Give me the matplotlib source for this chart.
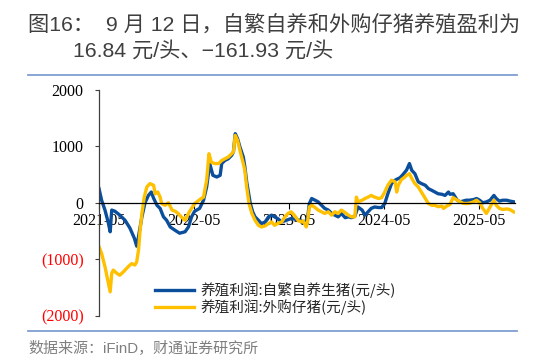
import pandas as pd
import matplotlib
matplotlib.use("Agg")
from matplotlib import pyplot as plt
from matplotlib.lines import Line2D

# 养殖利润:自繁自养生猪(元/头)
blue_dates = [
    '2021-05-01', '2021-05-11', '2021-05-24', '2021-06-06', '2021-06-13', '2021-06-19',
    '2021-07-01', '2021-07-20', '2021-08-09', '2021-08-28', '2021-09-14', '2021-09-23',
    '2021-09-30', '2021-10-13', '2021-10-25', '2021-11-07', '2021-11-18', '2021-11-27',
    '2021-12-10', '2021-12-22', '2022-01-04', '2022-01-16', '2022-01-30', '2022-02-18',
    '2022-03-07', '2022-03-28', '2022-04-10', '2022-04-22', '2022-05-04', '2022-05-23',
    '2022-06-07', '2022-06-19', '2022-07-01', '2022-07-13', '2022-07-28', '2022-08-10',
    '2022-08-16', '2022-08-28', '2022-09-10', '2022-09-23', '2022-09-30', '2022-10-07',
    '2022-10-16', '2022-10-25', '2022-11-07', '2022-11-13', '2022-11-20', '2022-12-04',
    '2022-12-13', '2022-12-22', '2023-01-04', '2023-01-16', '2023-01-30', '2023-02-12',
    '2023-02-24', '2023-03-07', '2023-03-19', '2023-04-04', '2023-04-22', '2023-05-10',
    '2023-05-23', '2023-06-13', '2023-07-01', '2023-07-13', '2023-07-19', '2023-07-28',
    '2023-08-10', '2023-08-22', '2023-09-04', '2023-09-16', '2023-09-30', '2023-10-13',
    '2023-10-25', '2023-11-07', '2023-11-19', '2023-12-04', '2023-12-16', '2023-12-28',
    '2024-01-10', '2024-01-22', '2024-02-07', '2024-02-18', '2024-03-01', '2024-03-13',
    '2024-03-26', '2024-04-10', '2024-04-22', '2024-05-04', '2024-05-16', '2024-05-30',
    '2024-06-13', '2024-06-25', '2024-07-01', '2024-07-13', '2024-07-27', '2024-08-07',
    '2024-08-16', '2024-08-28', '2024-09-10', '2024-09-22', '2024-10-07', '2024-10-19',
    '2024-11-01', '2024-11-13', '2024-11-25', '2024-12-10', '2024-12-22', '2025-01-04',
    '2025-01-10', '2025-01-22', '2025-02-07', '2025-02-19', '2025-03-01', '2025-03-13',
    '2025-03-25', '2025-04-10', '2025-04-22', '2025-05-04', '2025-05-16', '2025-05-30',
    '2025-06-13', '2025-06-28', '2025-07-07', '2025-07-19', '2025-08-01', '2025-08-16',
    '2025-08-28', '2025-09-12',
]
blue_vals = [
    250, 45, -130, -360, -515, -130,
    -150, -220, -310, -450, -630, -770,
    -600, -250, 0, 130, 190, 80,
    -45, -100, -250, -310, -430, -490,
    -540, -515, -430, -250, -150, -100,
    45, 280, 695, 487, 457, 487,
    695, 750, 780, 840, 900, 1225,
    1135, 990, 810, 635, 370, -15,
    -160, -250, -310, -370, -340, -250,
    -220, -250, -280, -340, -310, -280,
    -290, -310, -370, -250, -15, 75,
    45, 15, -45, -100, -130, -190,
    -220, -250, -190, -265, -250, -265,
    -240, -75, -130, -220, -160, -100,
    -75, -85, -85, -15, 160, 340,
    400, 430, 440, 500, 580, 695,
    575, 515, 370, 340, 310, 250,
    220, 190, 160, 150, 130, 190,
    150, 160, 45, 15, 30, 45,
    45, 55, 75, 45, 0, 15,
    45, 130, 75, 30, 45, 45,
    30, 16.84,
]

# 养殖利润:外购仔猪(元/头)
yellow_dates = [
    '2021-05-01', '2021-05-11', '2021-05-24', '2021-06-06', '2021-06-13', '2021-06-19',
    '2021-06-25', '2021-07-08', '2021-07-20', '2021-08-03', '2021-08-16', '2021-08-28',
    '2021-09-04', '2021-09-16', '2021-09-23', '2021-09-30', '2021-10-06', '2021-10-13',
    '2021-10-22', '2021-11-01', '2021-11-13', '2021-11-27', '2021-12-03', '2021-12-13',
    '2021-12-22', '2021-12-28', '2022-01-10', '2022-01-23', '2022-02-06', '2022-02-18',
    '2022-03-01', '2022-03-13', '2022-03-28', '2022-04-10', '2022-04-22', '2022-05-04',
    '2022-05-16', '2022-05-23', '2022-06-07', '2022-06-19', '2022-06-28', '2022-07-07',
    '2022-07-20', '2022-08-04', '2022-08-16', '2022-08-28', '2022-09-10', '2022-09-23',
    '2022-09-30', '2022-10-07', '2022-10-16', '2022-10-25', '2022-11-07', '2022-11-13',
    '2022-11-20', '2022-11-29', '2022-12-10', '2022-12-22', '2023-01-04', '2023-01-16',
    '2023-01-30', '2023-02-12', '2023-02-24', '2023-03-07', '2023-03-19', '2023-04-04',
    '2023-04-16', '2023-04-28', '2023-05-10', '2023-05-22', '2023-06-07', '2023-06-19',
    '2023-06-25', '2023-07-07', '2023-07-13', '2023-07-19', '2023-07-28', '2023-08-10',
    '2023-08-22', '2023-09-04', '2023-09-16', '2023-09-30', '2023-10-13', '2023-10-25',
    '2023-11-07', '2023-11-19', '2023-12-04', '2023-12-16', '2023-12-28', '2024-01-10',
    '2024-01-16', '2024-01-22', '2024-02-07', '2024-02-18', '2024-03-01', '2024-03-13',
    '2024-03-26', '2024-04-10', '2024-04-22', '2024-05-04', '2024-05-16', '2024-05-30',
    '2024-06-13', '2024-06-19', '2024-06-25', '2024-07-07', '2024-07-19', '2024-07-27',
    '2024-08-07', '2024-08-16', '2024-08-28', '2024-09-10', '2024-09-22', '2024-10-07',
    '2024-10-19', '2024-11-01', '2024-11-13', '2024-11-25', '2024-12-10', '2024-12-16',
    '2024-12-28', '2025-01-10', '2025-01-22', '2025-02-07', '2025-02-19', '2025-03-01',
    '2025-03-13', '2025-03-25', '2025-04-10', '2025-04-22', '2025-05-04', '2025-05-16',
    '2025-05-30', '2025-06-13', '2025-06-28', '2025-07-07', '2025-07-19', '2025-08-01',
    '2025-08-16', '2025-08-28', '2025-09-12',
]
yellow_vals = [
    -780, -900, -1135, -1425, -1580, -1250,
    -1195, -1250, -1285, -1225, -1160, -1105,
    -1080, -1105, -1050, -840, -490, -190,
    100, 280, 340, 310, 160, 190,
    100, -15, -45, 0, -130, -150,
    -190, -250, -310, -190, -100, -15,
    30, 55, 100, 400, 870, 720,
    695, 695, 750, 780, 810, 870,
    900, 1195, 1105, 930, 695, 575,
    280, -15, -190, -310, -400, -430,
    -410, -370, -340, -400, -370, -340,
    -250, -190, -160, -220, -320, -340,
    -320, -430, -310, -75, -45, -85,
    -130, -160, -190, -160, -220, -160,
    -190, -130, -175, -220, -250, -250,
    100, 15, 45, 75, 100, 130,
    100, 75, 90, 190, 310, 400,
    370, 190, 310, 410, 450, 487,
    515, 430, 340, 280, 190, 75,
    -15, -45, -45, -70, -60, -100,
    -60, -30, 90, 45, 15, -10,
    -15, -10, 15, 45, 0, -100,
    -190, -75, 45, -45, -100, -120,
    -110, -120, -161.93,
]

y_ticks = [2000, 1000, 0, -1000, -2000]
y_labels = ['2000', '1000', '0', '(1000)', '(2000)']
x_ticks = ['2021-05-01', '2022-05-01', '2023-05-01', '2024-05-01', '2025-05-01']
x_labels = ['2021-05', '2022-05', '2023-05', '2024-05', '2025-05']

BLUE = '#0B4F9C'
YELLOW = '#FFC000'
W, H = 533, 361

fig = plt.figure(figsize=(W / 100, H / 100), dpi=100)
ax = fig.add_axes([99 / W, 1 - 315.5 / H, 416 / W, 225.5 / H])

ax.plot(pd.to_datetime(blue_dates), blue_vals, color=BLUE, lw=2.4,
        label='养殖利润:自繁自养生猪(元/头)', solid_joinstyle='round')
ax.plot(pd.to_datetime(yellow_dates), yellow_vals, color=YELLOW, lw=2.4,
        label='养殖利润:外购仔猪(元/头)', solid_joinstyle='round')

ax.set_xlim(pd.Timestamp('2021-05-01'), pd.Timestamp('2025-09-17'))
ax.set_ylim(-2000, 2000)

ax.spines['top'].set_visible(False)
ax.spines['right'].set_visible(False)
ax.spines['bottom'].set_position(('data', 0))
ax.spines['bottom'].set_linewidth(0.9)
ax.spines['left'].set_color('#404040')
ax.spines['left'].set_linewidth(0.9)

ax.set_yticks(y_ticks)
ax.set_yticklabels(y_labels, family='Liberation Serif', fontsize=11.5)
for lab, v in zip(ax.get_yticklabels(), y_ticks):
    lab.set_color('red' if v < 0 else 'black')
ax.tick_params(axis='y', length=3, width=0.8, pad=8, color='#404040')

ax.set_xticks(pd.to_datetime(x_ticks))
ax.set_xticklabels(x_labels, family='Liberation Serif', fontsize=11.5)
ax.tick_params(axis='x', length=4, width=0.8, pad=3.5)

leg = ax.legend(loc='upper left', bbox_to_anchor=(155 / W, 1 - 282 / H),
                bbox_transform=fig.transFigure, frameon=False, borderpad=0,
                borderaxespad=0, handlelength=2.7, handletextpad=0.4,
                labelspacing=0.1,
                prop={'family': ['Noto Sans CJK SC'], 'size': 10.5})
for t in leg.get_texts():
    t.set_color('#262626')

title_font = ['Liberation Sans', 'Noto Sans CJK SC']
fig.text(28 / W, 1 - 25 / H, '图16：  9 月 12 日，自繁自养和外购仔猪养殖盈利为',
         family=title_font, fontsize=15.3, color='#3F3F3F', va='center')
fig.text(73 / W, 1 - 51 / H, '16.84 元/头、−161.93 元/头',
         family=title_font, fontsize=15.3, color='#3F3F3F', va='center')

fig.add_artist(Line2D([28 / W, 517 / W], [1 - 75 / H, 1 - 75 / H],
                      color='#7F9ED0', lw=1.3))
fig.add_artist(Line2D([28 / W, 517 / W], [1 - 331 / H, 1 - 331 / H],
                      color='#7F9ED0', lw=1.3))

fig.text(28 / W, 1 - 348 / H, '数据来源：iFinD，财通证券研究所',
         family=title_font, fontsize=10.8, color='#7F7F7F', va='center')

plt.savefig('out.png', dpi=100)
plt.close()
